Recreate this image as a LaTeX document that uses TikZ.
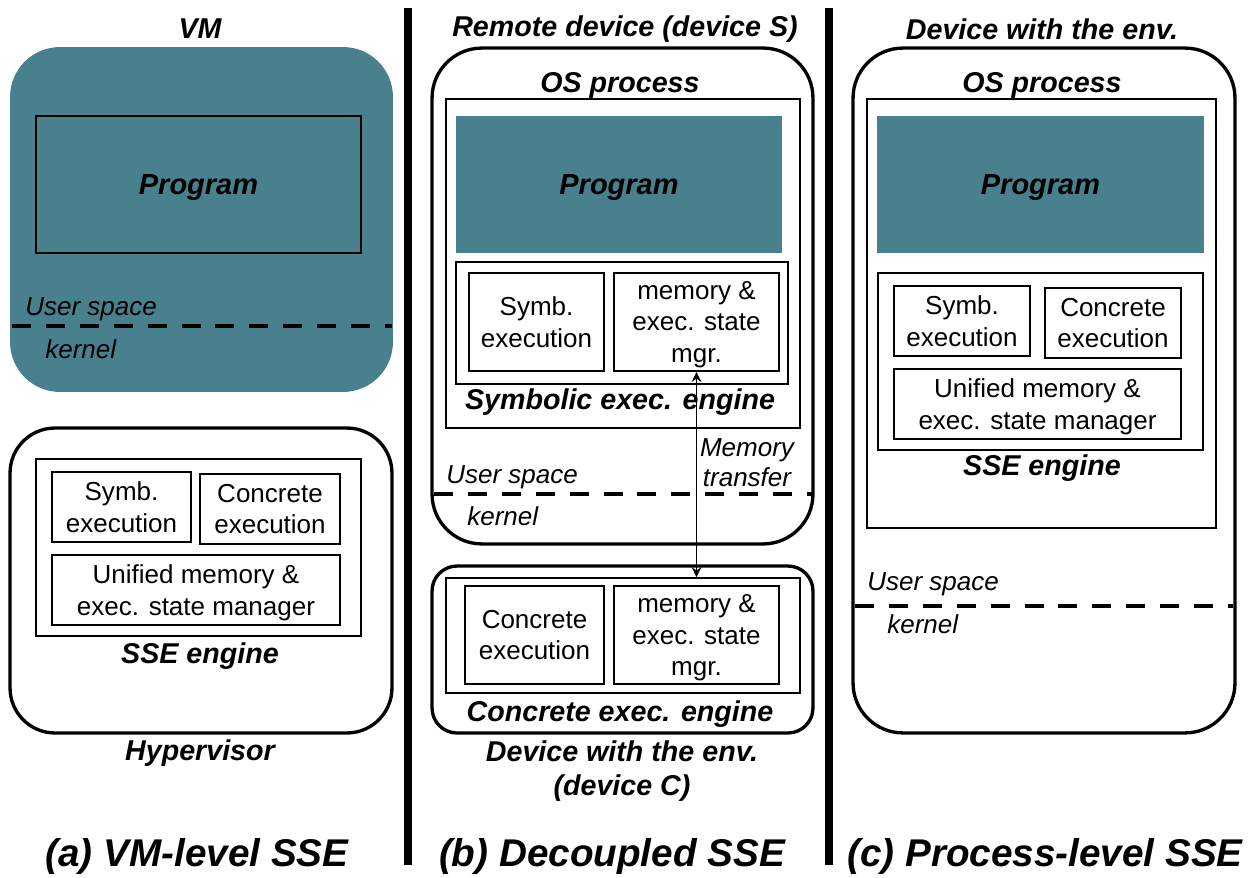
\documentclass[tikz,border=0pt]{standalone}
\usepackage{fontspec}
\setmainfont{Liberation Sans}
\usepackage{xcolor}
\usetikzlibrary{arrows.meta, calc}
\definecolor{vmteal}{RGB}{72,128,142}

\begin{document}
\begin{tikzpicture}[x=0.02cm, y=-0.02cm, >={Stealth[length=2mm, width=1.9mm]},
  every node/.style={font=\fontsize{14.8}{18}\selectfont, inner sep=0pt},
  title/.style={font=\fontsize{16.3}{19.8}\selectfont\bfseries\itshape, align=center},
  progtext/.style={font=\fontsize{16.5}{20}\selectfont\bfseries\itshape, text depth=0pt},
  caption/.style={font=\fontsize{22}{26}\selectfont\bfseries\itshape},
  note/.style={font=\fontsize{14.8}{17}\selectfont\itshape, align=center},
  hostbox/.style={draw, line width=1.9pt},
  procbox/.style={draw, line width=1.5pt},
  enginebox/.style={draw, line width=0.9pt},
  unitbox/.style={draw, line width=1pt, align=center, text depth=0pt},
  progbox/.style={fill=vmteal},
  kline/.style={line width=2.3pt, dash pattern=on 10.8pt off 8.5pt},
  sep/.style={line width=4pt}]
  \useasboundingbox (0,0) rectangle (1260,878);

  % (a) VM-level SSE
  \node[title] (tVM) at (200,29) {VM};
  \node[progbox, rounded corners=1cm, minimum width=7.66cm, minimum height=6.9cm] (vm) at (201.5,219.5) {};
  \node[draw, line width=0.9pt, minimum width=6.5cm, minimum height=2.74cm, progtext] (progA) at (198.5,184.5) {Program};
  \node[note, anchor=west] (usrA) at (25,309) {User space};
  \draw[kline] (12,326) -- (392,326);
  \node[note, anchor=west] (krnA) at (45,349) {kernel};
  \node[hostbox, rounded corners=0.9cm, minimum width=7.64cm, minimum height=6.1cm] (hyp) at (201,580.5) {};
  \node[enginebox, minimum width=6.5cm, minimum height=3.54cm] (sseA) at (198.5,547.5) {};
  \node[unitbox, minimum width=2.78cm, minimum height=1.4cm] (symbA) at (121.5,507) {Symb.\\execution};
  \node[unitbox, minimum width=2.8cm, minimum height=1.4cm] (concA) at (270,509) {Concrete\\execution};
  \node[unitbox, minimum width=5.76cm, minimum height=1.4cm] (unifA) at (196,590) {Unified memory \&\\exec. state manager};
  \node[title] (tSseA) at (200,656) {SSE engine};
  \node[title] (tHyp) at (200,753) {Hypervisor};
  \node[caption] (capA) at (197,856) {(a) VM-level SSE};

  \draw[sep] (408,8) -- (408,865);

  % (b) Decoupled SSE
  \node[title] (tDevS) at (625,29) {Remote device (device S)};
  \node[hostbox, rounded corners=1cm, minimum width=7.62cm, minimum height=9.92cm] (devS) at (622.5,296) {};
  \node[title] (tProcS) at (620,85) {OS process};
  \node[procbox, minimum width=7.08cm, minimum height=6.58cm] (procS) at (623,263.5) {};
  \node[progbox, minimum width=6.52cm, minimum height=2.74cm, progtext] (progS) at (619,184.5) {Program};
  \node[enginebox, minimum width=6.64cm, minimum height=2.44cm] (engS) at (622,323) {};
  \node[unitbox, minimum width=2.7cm, minimum height=1.96cm] (symbS) at (536.5,322) {Symb.\\execution};
  \node[unitbox, minimum width=3.3cm, minimum height=1.96cm] (memS) at (696.5,322) {memory \&\\exec. state\\mgr.};
  \node[title] (tEngS) at (620,402) {Symbolic exec. engine};
  \node[note, anchor=west] (usrS) at (446,477) {User space};
  \draw[kline] (434,494) -- (812,494);
  \node[note, anchor=west] (krnS) at (467,516) {kernel};
  \node[hostbox, rounded corners=0.5cm, minimum width=7.62cm, minimum height=3.34cm] (devC) at (622.5,649.5) {};
  \node[enginebox, minimum width=7.08cm, minimum height=2.3cm] (engC) at (623,635.5) {};
  \node[unitbox, minimum width=2.78cm, minimum height=1.96cm] (concC) at (534.5,635) {Concrete\\execution};
  \node[unitbox, minimum width=3.3cm, minimum height=1.96cm] (memC) at (696.5,635) {memory \&\\exec. state\\mgr.};
  \node[title] (tEngC) at (620,714) {Concrete exec. engine};
  \node[title] (tDevC) at (622,771) {Device with the env.\\(device C)};
  \draw[<->, line width=1pt] (memS.south) -- (memS.south |- engC.north);
  \node[note] (xfer) at (747,463) {Memory\\transfer};
  \node[caption] (capB) at (612,856) {(b) Decoupled SSE};

  \draw[sep] (829,8) -- (829,865);

  % (c) Process-level SSE
  \node[title] (tDevE) at (1042,29) {Device with the env.};
  \node[hostbox, rounded corners=1cm, minimum width=7.64cm, minimum height=13.7cm] (devE) at (1044,390.5) {};
  \node[title] (tProcE) at (1042,85) {OS process};
  \node[procbox, minimum width=6.98cm, minimum height=8.58cm] (procE) at (1041.5,313.5) {};
  \node[progbox, minimum width=6.54cm, minimum height=2.74cm, progtext] (progE) at (1040.5,184.5) {Program};
  \node[enginebox, minimum width=6.5cm, minimum height=3.54cm] (sseE) at (1040.5,361.5) {};
  \node[unitbox, minimum width=2.72cm, minimum height=1.4cm] (symbE) at (962,321) {Symb.\\execution};
  \node[unitbox, minimum width=2.72cm, minimum height=1.4cm] (concE) at (1113,323) {Concrete\\execution};
  \node[unitbox, minimum width=5.74cm, minimum height=1.4cm] (unifE) at (1037.5,404) {Unified memory \&\\exec. state manager};
  \node[title] (tSseE) at (1042,468) {SSE engine};
  \node[note, anchor=west] (usrE) at (867,584) {User space};
  \draw[kline] (855,606) -- (1233,606);
  \node[note, anchor=west] (krnE) at (887,624) {kernel};
  \node[caption] (capC) at (1045,856) {(c) Process-level SSE};
\end{tikzpicture}
\end{document}
